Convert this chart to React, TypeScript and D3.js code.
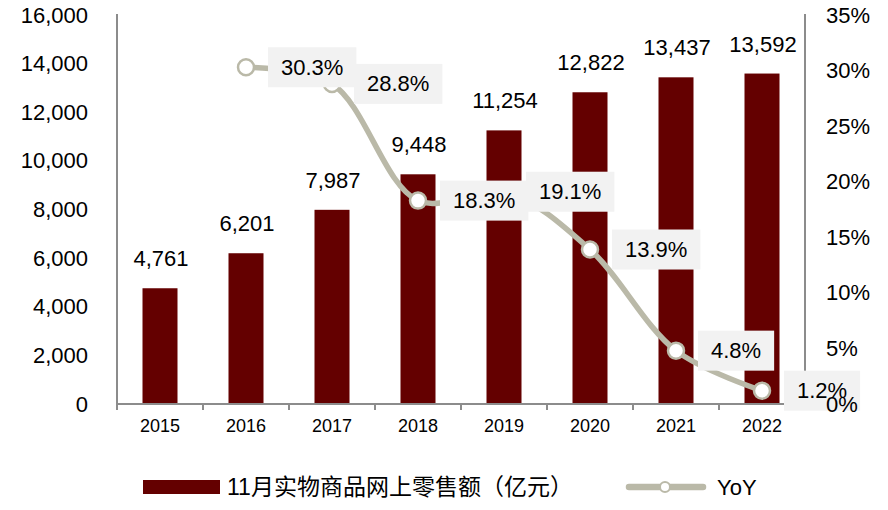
import React from "react";
import * as d3 from "d3";

const years = ["2015", "2016", "2017", "2018", "2019", "2020", "2021", "2022"];
const sales = [4761, 6201, 7987, 9448, 11254, 12822, 13437, 13592];
const yoyYears = ["2016", "2017", "2018", "2019", "2020", "2021", "2022"];
const yoy = [30.3, 28.8, 18.3, 19.1, 13.9, 4.8, 1.2];
const leftTicks = [0, 2000, 4000, 6000, 8000, 10000, 12000, 14000, 16000];
const rightTicks = [0, 5, 10, 15, 20, 25, 30, 35];
const seriesNames = ["11月实物商品网上零售额（亿元）", "YoY"];

const W = 888;
const H = 510;
const FONT = "'Liberation Sans', Arial, 'Noto Sans CJK SC', sans-serif";
const BAR = "#640000";
const LINE = "#BAB9A8";
const AXIS = "#8C8C8C";
const BOX = "#F2F2F2";

export default function App() {
  const x = d3.scaleBand<string>().domain(years).range([117, 805]).paddingInner(0).paddingOuter(0);
  const bw = x.bandwidth();
  const barW = 35;
  const yL = d3.scaleLinear().domain([0, 16000]).range([404, 15]);
  const yR = d3.scaleLinear().domain([0, 35]).range([404, 15]);
  const cx = (c: string) => (x(c) as number) + bw / 2;
  const pts: [number, number][] = yoyYears.map((c, i) => [cx(c), yR(yoy[i])]);
  const line = d3.line().curve(d3.curveCatmullRom.alpha(0.5))(pts) as string;
  const fmt = d3.format(",");

  const pctTextW = (s: string) => {
    let w = 0;
    for (const ch of s) {
      if (ch === ".") w += 0.278;
      else if (ch === "%") w += 0.889;
      else w += 0.556;
    }
    return w * 22;
  };

  return (
    <div style={{ position: "absolute", left: 0, top: 0 }}>
      <svg width={W} height={H} style={{ display: "block", background: "#fff" }} fontFamily={FONT}>
        {years.map((c, i) => (
          <rect key={c} x={cx(c) - barW / 2} y={yL(sales[i])} width={barW} height={yL(0) - yL(sales[i])} fill={BAR} />
        ))}
        {years.map((c, i) => (
          <text key={"l" + c} x={cx(c) + 1} y={yL(sales[i]) - 22} textAnchor="middle" fontSize={22} fill="#000">
            {fmt(sales[i])}
          </text>
        ))}
        <line x1={117} x2={117} y1={14} y2={404} stroke={AXIS} strokeWidth={2} />
        <line x1={805} x2={805} y1={14} y2={404} stroke={AXIS} strokeWidth={2} />
        <line x1={116} x2={806} y1={404} y2={404} stroke={AXIS} strokeWidth={2} />
        {years.concat(["end"]).map((c, i) => {
          const xx = 117 + bw * i;
          return <line key={"t" + i} x1={xx} x2={xx} y1={404} y2={410} stroke={AXIS} strokeWidth={2} />;
        })}
        {years.map((c) => (
          <text key={"x" + c} x={cx(c)} y={426} textAnchor="middle" dominantBaseline="central" fontSize={18} fill="#000">
            {c}
          </text>
        ))}
        {leftTicks.map((t) => (
          <text key={"yl" + t} x={88} y={yL(t)} textAnchor="end" dominantBaseline="central" fontSize={22} fill="#000">
            {fmt(t)}
          </text>
        ))}
        <path d={line} fill="none" stroke={LINE} strokeWidth={5.5} strokeLinecap="round" />
        {pts.map((p, i) => (
          <circle key={"c" + i} cx={p[0]} cy={p[1]} r={8} fill="#fff" stroke={LINE} strokeWidth={2.5} />
        ))}
        {pts.map((p, i) => {
          const s = yoy[i].toFixed(1) + "%";
          const tw = pctTextW(s);
          const bx = p[0] + 22;
          const bwid = tw + 26;
          return (
            <g key={"yl" + i}>
              <rect x={bx} y={p[1] - 20} width={bwid} height={40} fill={BOX} />
              <text x={bx + bwid / 2} y={p[1]} textAnchor="middle" dominantBaseline="central" fontSize={22} fill="#000">
                {s}
              </text>
            </g>
          );
        })}
        {rightTicks.map((t) => (
          <text key={"yr" + t} x={826} y={yR(t)} textAnchor="start" dominantBaseline="central" fontSize={22} fill="#000">
            {t + "%"}
          </text>
        ))}
        <rect x={143} y={480} width={77} height={14} fill={BAR} />
        <text x={227} y={487} dominantBaseline="central" fontSize={23} fill="#000">
          {seriesNames[0]}
        </text>
        <line x1={629} x2={703} y1={487} y2={487} stroke={LINE} strokeWidth={6.5} strokeLinecap="round" />
        <circle cx={665} cy={487} r={5} fill="#fff" stroke={LINE} strokeWidth={2} />
        <text x={717} y={487} dominantBaseline="central" fontSize={22} fill="#000">
          {seriesNames[1]}
        </text>
      </svg>
    </div>
  );
}
